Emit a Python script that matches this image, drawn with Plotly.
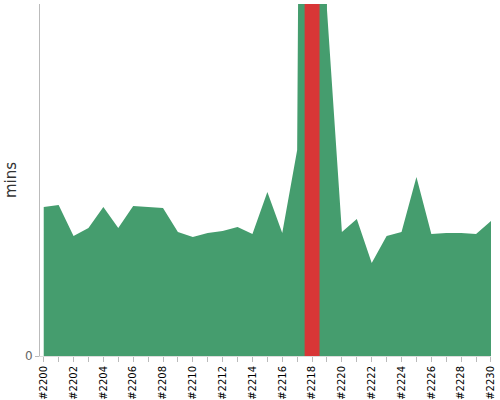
import plotly.graph_objects as go

builds = ["#%d" % n for n in range(2200, 2231)]
durations = [14.9, 15.1, 12.0, 12.8, 14.9, 12.8, 15.0, 14.9, 14.8, 12.4,
             11.9, 12.3, 12.5, 12.9, 12.2, 16.4, 12.3, 20.6, 264.0, 34.6,
             12.4, 13.7, 9.3, 12.0, 12.4, 17.9, 12.2, 12.3, 12.3, 12.2, 13.5]
failed_builds = ["#2218"]
label_builds = builds[::2]
y_max = 35.2

fig = go.Figure()
fig.add_trace(go.Scatter(
    x=list(range(len(builds))), y=durations, mode="lines",
    line=dict(width=0, color="#459d6e"), fill="tozeroy",
    fillcolor="#459d6e", hoverinfo="skip", showlegend=False))

for b in failed_builds:
    i = builds.index(b)
    fig.add_shape(type="rect", xref="x", yref="paper",
                  x0=i - 0.5, x1=i + 0.5, y0=0, y1=1,
                  fillcolor="#d83636", line=dict(width=0), layer="above")

fig.update_layout(
    width=500, height=400,
    margin=dict(l=40, r=9, t=4, b=44),
    paper_bgcolor="white", plot_bgcolor="white",
    font=dict(family="DejaVu Sans", color="#000"),
    xaxis=dict(
        range=[-0.25, len(builds) - 1 + 0.001],
        tickmode="array",
        tickvals=list(range(len(builds))),
        ticktext=[b if b in label_builds else "" for b in builds],
        tickangle=-90, tickfont=dict(size=10, color="#000"),
        ticks="outside", ticklen=5, tickcolor="#bbb",
        showline=True, linecolor="#ddd", linewidth=1,
        showgrid=False, zeroline=False, fixedrange=True, automargin=False),
    yaxis=dict(
        range=[0, y_max], tickmode="array", tickvals=[0], ticktext=["0"],
        tickfont=dict(size=12, color="#666"),
        ticks="outside", ticklen=4, tickcolor="#bbb",
        showline=True, linecolor="#bbb", linewidth=1,
        showgrid=False, zeroline=False, automargin=False,
        title=dict(text="mins", font=dict(size=15, color="#333"), standoff=4)),
)

fig.write_html("out.html", config={"displayModeBar": False},
               post_script="document.body.style.margin='0px';"
                           "document.body.style.overflow='hidden';")
